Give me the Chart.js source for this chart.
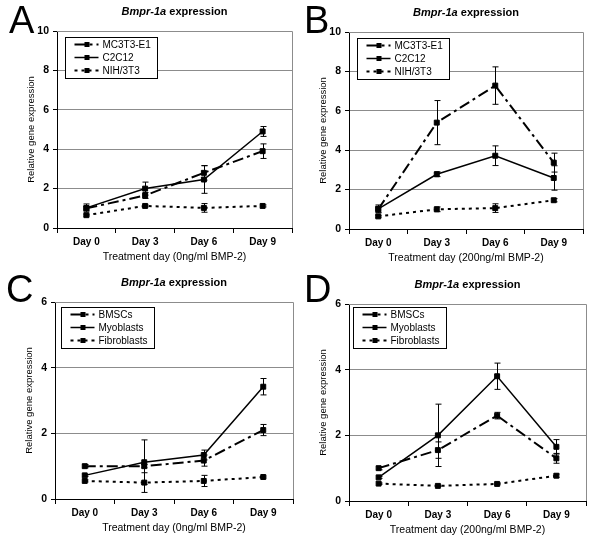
<!DOCTYPE html>
<html>
<head>
<meta charset="utf-8">
<script src="https://cdn.jsdelivr.net/npm/chart.js@4/dist/chart.umd.min.js"></script>
<style>
body { margin: 0; background: #fff; }
#fig { position: relative; width: 600px; height: 545px; }
canvas { position: absolute; }
</style>
</head>
<body>
<div id="fig">
  <canvas id="cA" width="300" height="270" style="left:0;top:0"></canvas>
  <canvas id="cB" width="300" height="270" style="left:300px;top:0"></canvas>
  <canvas id="cC" width="300" height="275" style="left:0;top:270px"></canvas>
  <canvas id="cD" width="300" height="275" style="left:300px;top:270px"></canvas>
</div>
<script>
// ---- data ----
const days = ['Day 0', 'Day 3', 'Day 6', 'Day 9'];
const cellLines = ['MC3T3-E1', 'C2C12', 'NIH/3T3'];
const cellTypes = ['BMSCs', 'Myoblasts', 'Fibroblasts'];

// A: cell lines, 0ng/ml BMP-2
const aMC3T3 = [1.0, 1.65, 2.8, 3.9];
const aMC3T3Err = [0.1, 0.15, 0.37, 0.37];
const aC2C12 = [1.02, 2.0, 2.46, 4.9];
const aC2C12Err = [0.2, 0.33, 0.7, 0.25];
const aNIH = [0.65, 1.12, 1.02, 1.12];
const aNIHErr = [0.05, 0.05, 0.22, 0.05];

// B: cell lines, 200ng/ml BMP-2
const bMC3T3 = [1.0, 5.4, 7.28, 3.37];
const bMC3T3Err = [0.15, 1.12, 0.95, 0.48];
const bC2C12 = [1.02, 2.78, 3.72, 2.59];
const bC2C12Err = [0.2, 0.12, 0.5, 0.62];
const bNIH = [0.64, 1.0, 1.06, 1.46];
const bNIHErr = [0.05, 0.12, 0.22, 0.08];

// C: primary cells, 0ng/ml BMP-2
const cBMSC = [1.0, 1.0, 1.17, 2.1];
const cBMSCErr = [0.05, 0.05, 0.17, 0.17];
const cMyo = [0.72, 1.12, 1.34, 3.42];
const cMyoErr = [0.03, 0.68, 0.15, 0.25];
const cFib = [0.55, 0.5, 0.55, 0.67];
const cFibErr = [0.03, 0.3, 0.17, 0.03];

// D: primary cells, 200ng/ml BMP-2
const dBMSC = [1.0, 1.55, 2.6, 1.3];
const dBMSCErr = [0.05, 0.25, 0.1, 0.15];
const dMyo = [0.72, 2.0, 3.8, 1.65];
const dMyoErr = [0.03, 0.95, 0.4, 0.22];
const dFib = [0.53, 0.46, 0.52, 0.77];
const dFibErr = [0.02, 0.02, 0.03, 0.05];

const FONT = '"Liberation Sans", Arial, sans-serif';
const dashes = [[11, 4, 3, 4], [], [3, 4]];
const widths = [2, 1.5, 2];

function makePanel(p) {
  const canvas = document.getElementById(p.id);
  const W = canvas.width, H = canvas.height;
  const a = p.area;

  const datasets = p.names.map((n, i) => ({
    label: n,
    data: p.vals[i],
    err: p.errs[i],
    borderColor: '#000',
    backgroundColor: '#000',
    borderWidth: widths[i],
    borderDash: dashes[i],
    pointStyle: 'rect',
    pointRadius: 3.5,
    pointBackgroundColor: '#000',
    pointBorderColor: '#000',
    pointBorderWidth: 1,
    tension: 0,
    fill: false
  }));

  const frame = {
    id: 'frame',
    beforeDatasetsDraw(chart) {
      const ca = chart.chartArea, ctx = chart.ctx;
      ctx.save();
      ctx.strokeStyle = '#8c8c8c';
      ctx.lineWidth = 1;
      ctx.beginPath();
      ctx.moveTo(ca.left, ca.top + 0.5);
      ctx.lineTo(ca.right + 0.5, ca.top + 0.5);
      ctx.lineTo(ca.right + 0.5, ca.bottom);
      ctx.stroke();
      ctx.restore();
    }
  };

  const errorBars = {
    id: 'errorBars',
    afterDatasetsDraw(chart) {
      const ctx = chart.ctx, ys = chart.scales.y;
      ctx.save();
      ctx.strokeStyle = '#000';
      ctx.lineWidth = 1;
      chart.data.datasets.forEach((ds, i) => {
        const meta = chart.getDatasetMeta(i);
        ds.data.forEach((v, j) => {
          const e = ds.err[j];
          const x = Math.round(meta.data[j].x) + 0.5;
          const y1 = ys.getPixelForValue(v + e);
          const y2 = ys.getPixelForValue(v - e);
          ctx.beginPath();
          ctx.moveTo(x, y1); ctx.lineTo(x, y2);
          ctx.moveTo(x - 3, y1); ctx.lineTo(x + 3, y1);
          ctx.moveTo(x - 3, y2); ctx.lineTo(x + 3, y2);
          ctx.stroke();
        });
      });
      ctx.restore();
    }
  };

  const texts = {
    id: 'texts',
    afterDraw(chart) {
      const ca = chart.chartArea, ctx = chart.ctx;
      const cx = (ca.left + ca.right) / 2;
      ctx.save();
      ctx.fillStyle = '#000';

      // panel letter
      ctx.font = '38px ' + FONT;
      ctx.textAlign = 'left';
      ctx.textBaseline = 'alphabetic';
      ctx.fillText(p.letter, p.letterX, p.letterY);

      // title: italic gene name + bold word
      ctx.textBaseline = 'middle';
      const f1 = 'italic bold 11px ' + FONT, f2 = 'bold 11px ' + FONT;
      ctx.font = f1; const w1 = ctx.measureText('Bmpr-1a').width;
      ctx.font = f2; const w2 = ctx.measureText(' expression').width;
      const tx = cx - (w1 + w2) / 2, ty = ca.top - 19;
      ctx.font = f1; ctx.fillText('Bmpr-1a', tx, ty);
      ctx.font = f2; ctx.fillText(' expression', tx + w1, ty);

      // axis titles
      ctx.font = '10.5px ' + FONT;
      ctx.textAlign = 'center';
      ctx.fillText(p.xTitle, cx, ca.bottom + 29);
      ctx.save();
      ctx.translate(ca.left - 26, (ca.top + ca.bottom) / 2);
      ctx.rotate(-Math.PI / 2);
      ctx.font = '9.5px ' + FONT;
      ctx.fillText('Relative gene expression', 0, 0);
      ctx.restore();

      // legend box
      ctx.font = '10px ' + FONT;
      const tw = Math.max(...p.names.map(n => ctx.measureText(n).width));
      const bx = Math.round(ca.left + p.leg[0]) + 0.5, by = Math.round(ca.top + p.leg[1]) + 0.5;
      const bw = Math.round(37 + tw + 7), bh = 41;
      ctx.fillStyle = '#fff';
      ctx.fillRect(bx, by, bw, bh);
      ctx.strokeStyle = '#000';
      ctx.lineWidth = 1;
      ctx.setLineDash([]);
      ctx.strokeRect(bx, by, bw, bh);
      p.names.forEach((n, i) => {
        const ry = by + 7 + i * 13;
        ctx.save();
        ctx.strokeStyle = '#000';
        ctx.lineWidth = widths[i];
        ctx.setLineDash(dashes[i]);
        ctx.beginPath();
        ctx.moveTo(bx + 9, ry); ctx.lineTo(bx + 33, ry);
        ctx.stroke();
        ctx.restore();
        ctx.fillStyle = '#000';
        ctx.fillRect(bx + 19, ry - 2.5, 5, 5);
        ctx.textAlign = 'left';
        ctx.fillText(n, bx + 37, ry + 0.5);
      });
      ctx.restore();
    }
  };

  new Chart(canvas, {
    type: 'line',
    data: { labels: days, datasets: datasets },
    options: {
      responsive: false,
      animation: false,
      layout: { padding: { top: a.top, right: W - a.right, bottom: 0, left: 0 } },
      plugins: { legend: { display: false }, tooltip: { enabled: false } },
      scales: {
        x: {
          type: 'category',
          offset: true,
          afterFit(s) { s.height = H - a.bottom; },
          grid: { offset: true, drawOnChartArea: false, drawTicks: true, tickLength: 5, color: '#000' },
          border: { color: '#000', width: 1 },
          ticks: { color: '#000', font: { family: FONT, size: 10, weight: 'bold' }, padding: 3, maxRotation: 0 }
        },
        y: {
          min: 0,
          max: p.yMax,
          afterFit(s) { s.width = a.left; },
          grid: { color: '#8c8c8c', tickColor: '#000', tickLength: 4, drawTicks: true },
          border: { color: '#000', width: 1 },
          ticks: { stepSize: 2, color: '#000', font: { family: FONT, size: 10.5, weight: 'bold' }, padding: 4 }
        }
      }
    },
    plugins: [frame, errorBars, texts]
  });
}

makePanel({
  id: 'cA', letter: 'A', letterX: 9, letterY: 33, xTitle: 'Treatment day (0ng/ml BMP-2)',
  names: cellLines, vals: [aMC3T3, aC2C12, aNIH], errs: [aMC3T3Err, aC2C12Err, aNIHErr],
  yMax: 10, area: { left: 57, top: 31, right: 292, bottom: 228 }, leg: [8, 6]
});
makePanel({
  id: 'cB', letter: 'B', letterX: 4, letterY: 33, xTitle: 'Treatment day (200ng/ml BMP-2)',
  names: cellLines, vals: [bMC3T3, bC2C12, bNIH], errs: [bMC3T3Err, bC2C12Err, bNIHErr],
  yMax: 10, area: { left: 49, top: 32, right: 283, bottom: 229 }, leg: [8, 6]
});
makePanel({
  id: 'cC', letter: 'C', letterX: 6, letterY: 32, xTitle: 'Treatment day (0ng/ml BMP-2)',
  names: cellTypes, vals: [cBMSC, cMyo, cFib], errs: [cBMSCErr, cMyoErr, cFibErr],
  yMax: 6, area: { left: 55, top: 32, right: 293, bottom: 229 }, leg: [6, 5]
});
makePanel({
  id: 'cD', letter: 'D', letterX: 4, letterY: 32, xTitle: 'Treatment day (200ng/ml BMP-2)',
  names: cellTypes, vals: [dBMSC, dMyo, dFib], errs: [dBMSCErr, dMyoErr, dFibErr],
  yMax: 6, area: { left: 49, top: 34, right: 286, bottom: 231 }, leg: [4, 3]
});
</script>
</body>
</html>
